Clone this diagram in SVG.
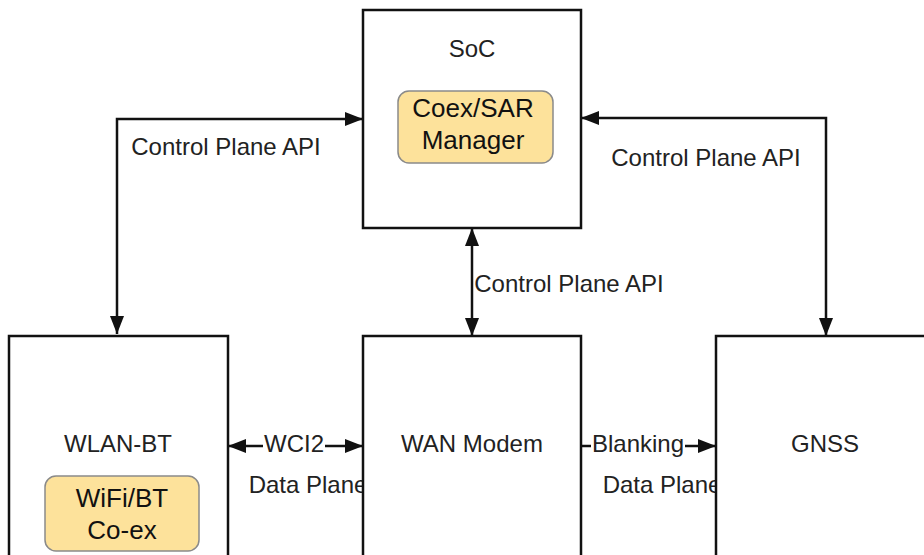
<svg xmlns="http://www.w3.org/2000/svg" width="924" height="555" viewBox="0 0 924 555">
<defs>
<style>
.box{fill:#fff;stroke:#111;stroke-width:2.5}
.sub{fill:#fde29b;stroke:#8a8a8a;stroke-width:1.5}
.t{font-family:"Liberation Sans",Arial,sans-serif;font-size:24px;fill:#222;text-anchor:middle;dominant-baseline:central}
.ts{font-family:"Liberation Sans",Arial,sans-serif;font-size:26px;fill:#111;text-anchor:middle;dominant-baseline:central}
.c{fill:none;stroke:#111;stroke-width:2.5}
</style>
<marker id="ah" viewBox="0 0 18 14" refX="18" refY="7" markerWidth="18" markerHeight="14" markerUnits="userSpaceOnUse" orient="auto-start-reverse">
<path d="M0,0 L18,7 L0,14 Z" fill="#111"/>
</marker>
</defs>
<rect width="924" height="555" fill="#fff"/>
<g id="connectors">
<path class="c" d="M117,334 V119 H363" marker-start="url(#ah)" marker-end="url(#ah)"/>
<path class="c" d="M581,118 H826 V336" marker-start="url(#ah)" marker-end="url(#ah)"/>
<path class="c" d="M472,228 V336" marker-start="url(#ah)" marker-end="url(#ah)"/>
<path class="c" d="M228,446 H363" marker-start="url(#ah)" marker-end="url(#ah)"/>
<path class="c" d="M581,446 H716" marker-end="url(#ah)"/>
<rect x="263" y="432" width="62" height="28" fill="#fff"/>
<rect x="591" y="432" width="94" height="28" fill="#fff"/>
<text class="t" x="226" y="146">Control Plane API</text>
<text class="t" x="706" y="157">Control Plane API</text>
<text class="t" x="569" y="283">Control Plane API</text>
<text class="t" x="294" y="443">WCI2</text>
<text class="t" x="308" y="484">Data Plane</text>
<text class="t" x="638" y="443">Blanking</text>
<text class="t" x="662" y="484">Data Plane</text>
</g>
<g id="soc">
<rect class="box" x="363" y="10" width="218" height="218"/>
<text class="t" x="472" y="48">SoC</text>
</g>
<g id="coex-sar-manager">
<rect class="sub" x="398" y="91" width="155" height="72" rx="11"/>
<text class="ts" x="473" y="108">Coex/SAR</text>
<text class="ts" x="473" y="140">Manager</text>
</g>
<g id="wlan-bt">
<rect class="box" x="9" y="336" width="219" height="230"/>
<text class="t" x="118" y="443">WLAN-BT</text>
</g>
<g id="wifi-bt-coex">
<rect class="sub" x="45" y="476" width="154" height="75" rx="11"/>
<text class="ts" x="122" y="498">WiFi/BT</text>
<text class="ts" x="122" y="530">Co-ex</text>
</g>
<g id="wan-modem">
<rect class="box" x="363" y="336" width="218" height="230"/>
<text class="t" x="472" y="443">WAN Modem</text>
</g>
<g id="gnss">
<rect class="box" x="716" y="336" width="218" height="230"/>
<text class="t" x="825" y="443">GNSS</text>
</g>
</svg>
